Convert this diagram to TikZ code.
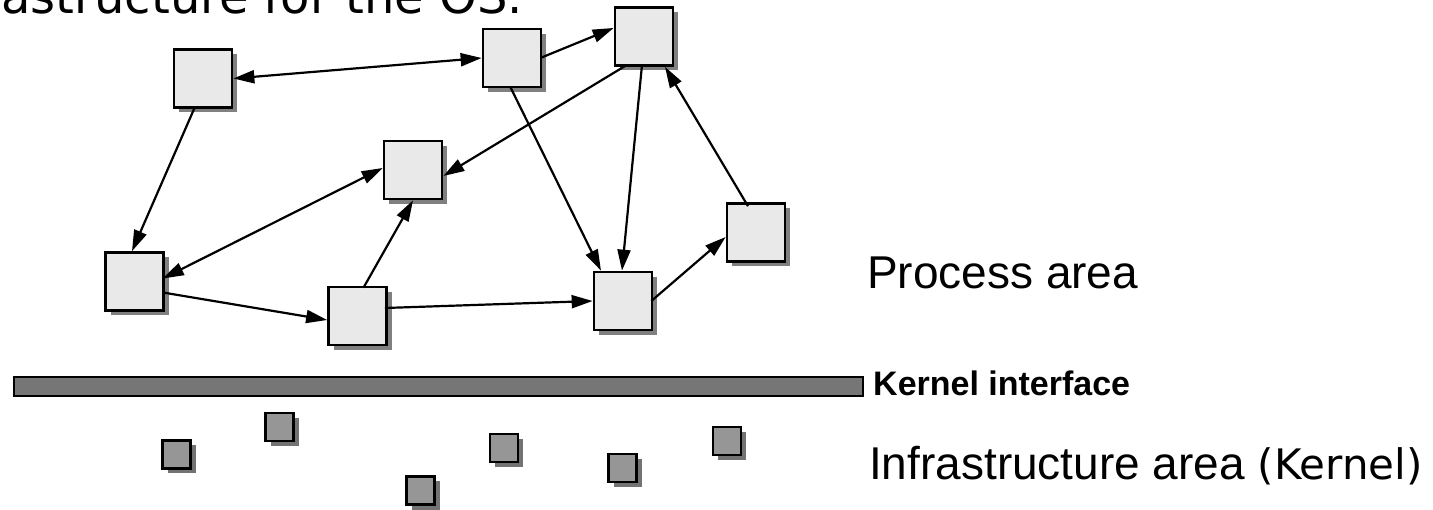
\documentclass[tikz,border=0pt]{standalone}
\usepackage{fontspec}
\setmainfont{Liberation Sans}
\newfontfamily\dejavu{DejaVu Sans}
\usetikzlibrary{arrows.meta,shadows}
\definecolor{boxfill}{HTML}{E9E9E9}
\definecolor{shadowgray}{HTML}{808080}
\definecolor{bargray}{HTML}{767676}
\definecolor{kfill}{HTML}{969696}
\tikzset{
  procbox/.style={draw=black, line width=2.7pt, fill=boxfill, minimum width=58pt, minimum height=58pt, inner sep=0pt,
    general shadow={fill=shadowgray, shadow xshift=5pt, shadow yshift=-5pt}},
  kbox/.style={draw=black, line width=2.7pt, fill=kfill, minimum width=28pt, minimum height=28pt, inner sep=0pt,
    general shadow={fill=shadowgray!90!black, shadow xshift=5pt, shadow yshift=-5pt}},
  conn/.style={line width=2.2pt, -{Triangle[length=21pt,width=13pt]}},
  biconn/.style={line width=2.2pt, {Triangle[length=21pt,width=13pt]}-{Triangle[length=21pt,width=13pt]}},
  lbl/.style={anchor=base west, inner sep=0pt, font=\fontsize{46}{55}\selectfont},
}
\begin{document}
\begin{tikzpicture}[x=1pt,y=-1pt]
\useasboundingbox (0,0) rectangle (1433,510);
\clip (0,0) rectangle (1433,510);
\node[anchor=base east, inner sep=0pt, font=\dejavu\fontsize{48}{58}\selectfont] (title) at (523,14) {astructure for the OS.};
% process boxes
\node[procbox] (A) at (203,78.5) {};
\node[procbox] (B) at (512,58) {};
\node[procbox] (C) at (644,36.5) {};
\node[procbox] (D) at (413,170) {};
\node[procbox] (E) at (756,232.5) {};
\node[procbox] (F) at (623,301) {};
\node[procbox] (G) at (134.5,281.5) {};
\node[procbox] (H) at (357.5,316) {};
% connectors
\draw[biconn] (A.east) -- (B.west);
\draw[conn] ([xshift=-2pt]B.east) -- ([yshift=8.5pt]C.west);
\draw[conn] ([xshift=-8pt,yshift=2pt]A.south) -- ([xshift=-2.5pt]G.north);
\draw[conn] ([xshift=-17pt,yshift=2pt]C.south) -- ([yshift=-6pt]D.east);
\draw[conn] ([xshift=-2pt,yshift=2pt]B.south) -- ([xshift=-22pt]F.north);
\draw[conn] ([xshift=-2pt,yshift=2pt]C.south) -- ([xshift=-1pt]F.north);
\draw[conn] ([xshift=-8pt,yshift=-4pt]E.north) -- ([xshift=21pt]C.south);
\draw[biconn] ([xshift=-2pt,yshift=3pt]G.east) -- ([yshift=2pt]D.west);
\draw[conn] ([xshift=6pt,yshift=-2pt]H.north) -- (D.south);
\draw[conn] ([xshift=-2pt,yshift=-11pt]G.east) -- ([yshift=-4pt]H.west);
\draw[conn] ([xshift=-3pt,yshift=8pt]H.east) -- (F.west);
\draw[conn] ([xshift=-2pt]F.east) -- ([yshift=-4.5pt]E.west);
% kernel interface bar
\node[draw=black, line width=2.2pt, fill=bargray, minimum width=849pt, minimum height=19pt, inner sep=0pt, anchor=north west] (bar) at (13,376) {};
\node[anchor=base west, inner sep=0pt, font=\bfseries\fontsize{34}{41}\selectfont] (kif) at (873,396) {Kernel interface};
% kernel squares
\node[kbox] (k1) at (176.5,454.5) {};
\node[kbox] (k2) at (279.5,427) {};
\node[kbox] (k3) at (420.5,490.5) {};
\node[kbox] (k4) at (504,448) {};
\node[kbox] (k5) at (622.5,468) {};
\node[kbox] (k6) at (727,441) {};
% labels
\node[lbl] (proc) at (867,289) {Process area};
\node[lbl] (infra) at (869,479) {Infrastructure area {\dejavu\fontsize{42}{50}\selectfont(Kernel)}};
\end{tikzpicture}
\end{document}
